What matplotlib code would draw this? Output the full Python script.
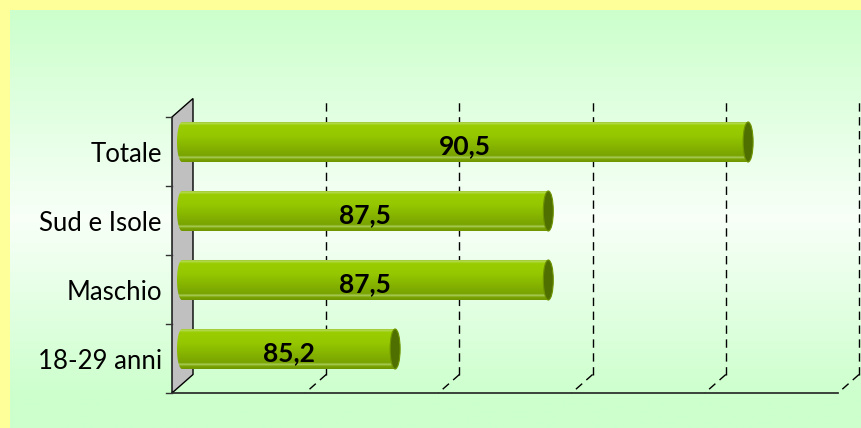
import numpy as np
import matplotlib.pyplot as plt
from matplotlib.colors import LinearSegmentedColormap
from matplotlib.patches import Polygon, Ellipse, PathPatch
from matplotlib.path import Path

# dati
categorie = ['18-29 anni', 'Maschio', 'Sud e Isole', 'Totale']
valori = [85.2, 87.5, 87.5, 90.5]
x_min, x_max = 82, 92
griglia = [84, 86, 88, 90, 92]

W, H = 862, 428
fig = plt.figure(figsize=(W / 100, H / 100), dpi=100)
fig.patch.set_facecolor('#FFFF99')

# sfondo sfumato
bg = fig.add_axes([10 / W, 0, (W - 10) / W, (H - 10) / H])
bg.axis('off')
cm_bg = LinearSegmentedColormap.from_list(
    'bg', [(0, '#CCFFCC'), (0.5, '#F8FFF8'), (0.93, '#CCFFCC'), (1, '#CCFFCC')])
bg.imshow(np.linspace(0, 1, 256).reshape(-1, 1), cmap=cm_bg, aspect='auto',
          extent=(0, 1, 0, 1))
bg.set_xlim(0, 1)
bg.set_ylim(0, 1)

# asse principale (piano delle barre), con margine a sinistra e destra
px_x = 666 / (x_max - x_min)   # pixel per unita
px_y = 276 / 4
pad_l, pad_r = 22, 20
ax = fig.add_axes([(182 - pad_l) / W, 44.5 / H, (666 + pad_l + pad_r) / W, 276 / H])
ax.axis('off')
fdx, fdy = -10 / px_x, -9.5 / px_y   # piano frontale
bdx, bdy = 11 / px_x, 9 / px_y       # piano di fondo
y0, y1 = -0.5, len(categorie) - 0.5

# parete laterale
ax.add_patch(Polygon([(x_min + fdx, y0 + fdy), (x_min + fdx, y1 + fdy),
                      (x_min + bdx, y1 + bdy), (x_min + bdx, y0 + bdy)],
                     closed=True, facecolor='#C0C0C0', edgecolor='black',
                     lw=1.0, clip_on=False, zorder=1))

# griglia tratteggiata
for g in griglia:
    ax.plot([g + bdx, g + bdx], [y0 + bdy, y1 + bdy], color='black', lw=1.0,
            ls=(0, (6, 4)), clip_on=False, zorder=1)
    ax.plot([g + bdx, g + fdx], [y0 + bdy, y0 + fdy], color='black', lw=1.0,
            ls=(0, (6, 4)), clip_on=False, zorder=1)

# bordo frontale del pavimento
ax.plot([x_min + fdx, x_max + fdx], [y0 + fdy, y0 + fdy], color='#222222',
        lw=1.2, clip_on=False, zorder=2)

# tacche e etichette delle categorie
for b in np.arange(y0, y1 + 0.1, 1):
    ax.plot([x_min + fdx - 6 / px_x, x_min + fdx], [b + fdy, b + fdy],
            color='#333333', lw=1.0, clip_on=False, zorder=2)
for i, cat in enumerate(categorie):
    ax.text(x_min + fdx - 10 / px_x, i + fdy - 3 / px_y, cat, ha='right',
            va='center', fontsize=18.5, family='Lato', color='black')

# cilindri
cm_bar = LinearSegmentedColormap.from_list(
    'bar', [(0, '#86B300'), (0.05, '#B8DC5A'), (0.1, '#9ACD00'),
            (0.35, '#96C800'), (0.85, '#78A300'), (0.89, '#ADCF60'),
            (0.93, '#7AA500'), (1, '#6F9600')])
grad = cm_bar(np.linspace(0, 1, 200)).reshape(200, 1, 4)
h = 0.29
a = 5 / px_x
for i, v in enumerate(valori):
    t = np.linspace(np.pi / 2, 3 * np.pi / 2, 30)
    verts = list(zip(x_min + a * np.cos(t), i + h * np.sin(t)))
    verts += [(v, i - h), (v, i + h), (x_min, i + h)]
    path = Path(verts, [Path.MOVETO] + [Path.LINETO] * (len(verts) - 2) + [Path.CLOSEPOLY])
    clip = PathPatch(path, transform=ax.transData, facecolor='none',
                     edgecolor='none')
    ax.add_patch(clip)
    im = ax.imshow(grad, extent=(x_min - a, v, i - h, i + h), aspect='auto',
                   interpolation='bilinear', zorder=3)
    im.set_clip_path(clip)
    ax.add_patch(Ellipse((v, i), 2 * a, 2 * h, facecolor='#4F6F00',
                         edgecolor='#6E9400', lw=0.8, zorder=4, clip_on=False))
    ax.text((x_min + v) / 2, i - 0.06, f'{v:.1f}'.replace('.', ','),
            ha='center', va='center', fontsize=19, fontweight='bold',
            family='Lato', color='black', zorder=5)

ax.set_xlim(x_min - pad_l / px_x, x_max + pad_r / px_x)
ax.set_ylim(y0, y1)

plt.savefig('out.png', dpi=100)
